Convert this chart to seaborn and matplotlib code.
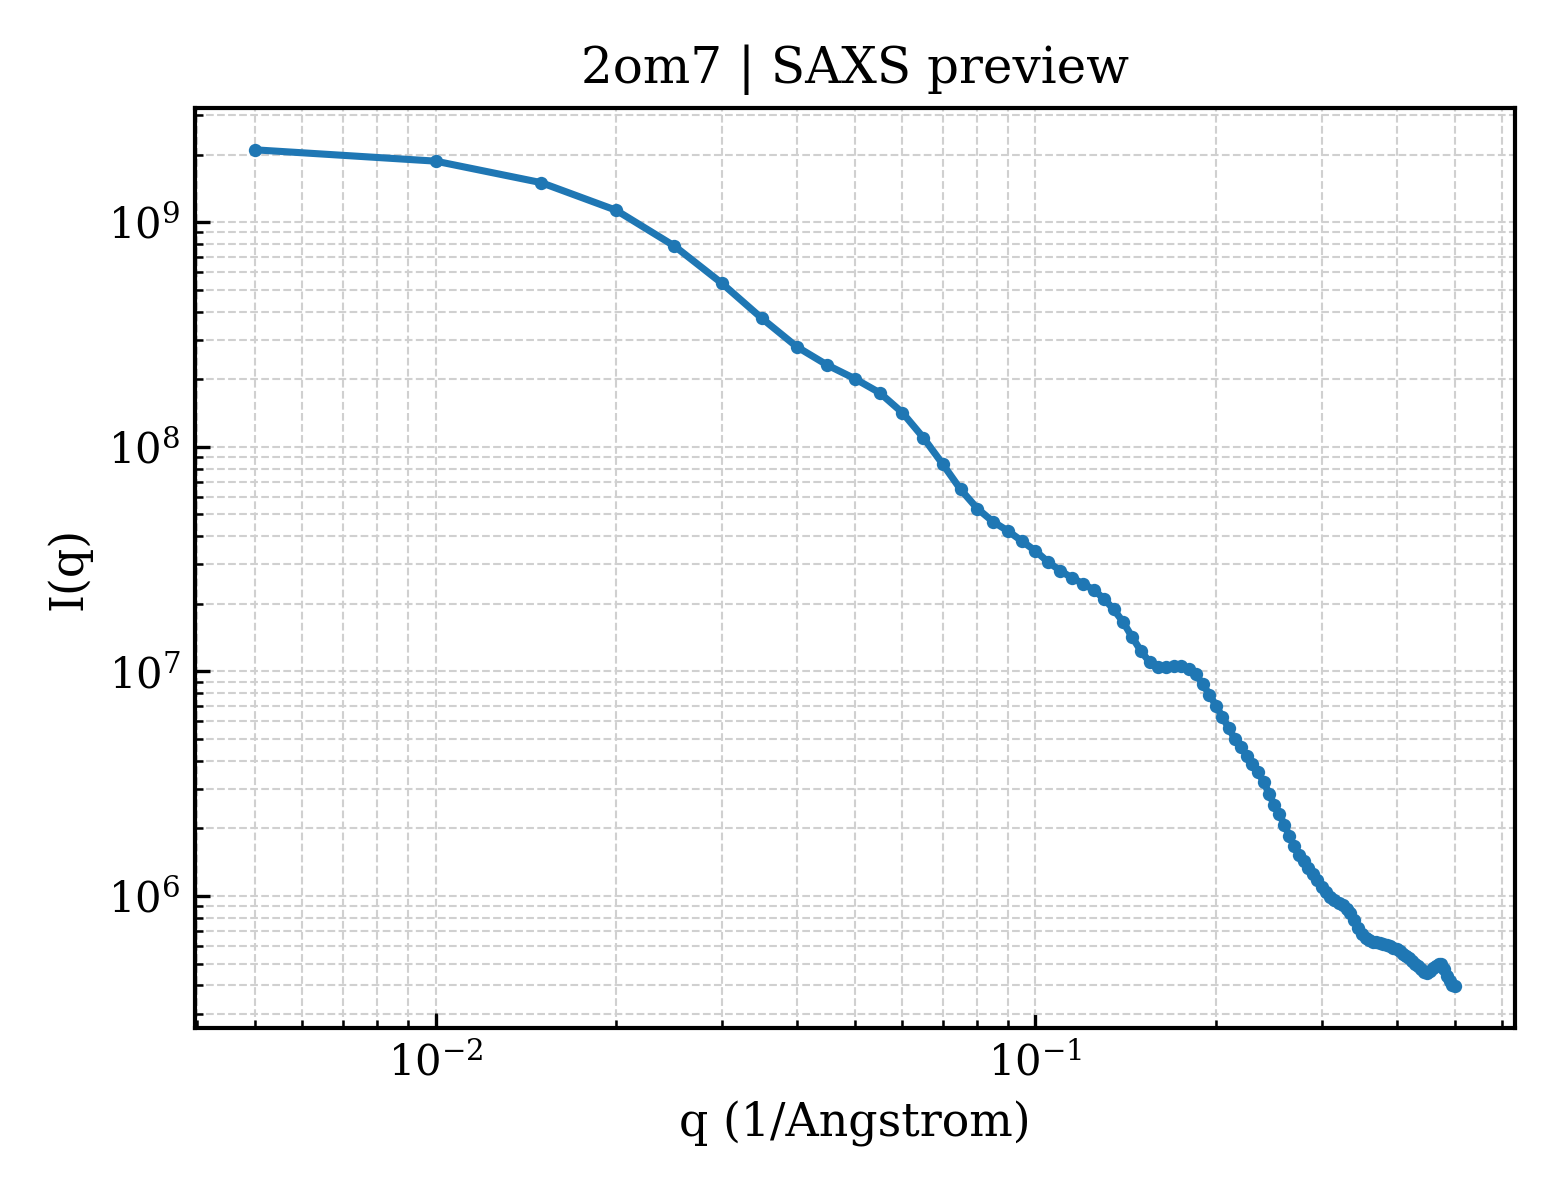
import matplotlib
matplotlib.use("Agg")
import matplotlib.pyplot as plt
import seaborn as sns
import pandas as pd

q_values = [
    0.005, 0.010, 0.015, 0.020, 0.025, 0.030, 0.035, 0.040, 0.045, 0.050,
    0.055, 0.060, 0.065, 0.070, 0.075, 0.080, 0.085, 0.090, 0.095, 0.100,
    0.105, 0.110, 0.115, 0.120, 0.125, 0.130, 0.135, 0.140, 0.145, 0.150,
    0.155, 0.160, 0.165, 0.170, 0.175, 0.180, 0.185, 0.190, 0.195, 0.200,
    0.205, 0.210, 0.215, 0.220, 0.225, 0.230, 0.235, 0.240, 0.245, 0.250,
    0.255, 0.260, 0.265, 0.270, 0.275, 0.280, 0.285, 0.290, 0.295, 0.300,
    0.305, 0.310, 0.315, 0.320, 0.325, 0.330, 0.335, 0.340, 0.345, 0.350,
    0.355, 0.360, 0.365, 0.370, 0.375, 0.380, 0.385, 0.390, 0.395, 0.400,
    0.405, 0.410, 0.415, 0.420, 0.425, 0.430, 0.435, 0.440, 0.445, 0.450,
    0.455, 0.460, 0.465, 0.470, 0.475, 0.480, 0.485, 0.490, 0.495, 0.500,
]

intensity = [
    2.10e9, 1.87e9, 1.50e9, 1.13e9, 7.84e8, 5.35e8, 3.73e8, 2.79e8, 2.31e8, 2.01e8,
    1.74e8, 1.42e8, 1.10e8, 8.40e7, 6.47e7, 5.31e7, 4.64e7, 4.22e7, 3.80e7, 3.44e7,
    3.07e7, 2.81e7, 2.61e7, 2.46e7, 2.31e7, 2.11e7, 1.89e7, 1.66e7, 1.42e7, 1.23e7,
    1.10e7, 1.045e7, 1.045e7, 1.06e7, 1.06e7, 1.03e7, 9.70e6, 8.80e6, 7.87e6, 7.05e6,
    6.25e6, 5.60e6, 5.00e6, 4.60e6, 4.22e6, 3.88e6, 3.56e6, 3.23e6, 2.86e6, 2.55e6,
    2.31e6, 2.08e6, 1.85e6, 1.67e6, 1.53e6, 1.43e6, 1.34e6, 1.26e6, 1.18e6, 1.10e6,
    1.04e6, 9.95e5, 9.60e5, 9.30e5, 9.16e5, 8.80e5, 8.40e5, 7.80e5, 7.23e5, 6.76e5,
    6.49e5, 6.35e5, 6.27e5, 6.22e5, 6.17e5, 6.11e5, 6.05e5, 6.00e5, 5.90e5, 5.80e5,
    5.68e5, 5.54e5, 5.40e5, 5.28e5, 5.15e5, 5.00e5, 4.86e5, 4.72e5, 4.60e5, 4.53e5,
    4.62e5, 4.77e5, 4.90e5, 5.00e5, 4.97e5, 4.72e5, 4.40e5, 4.18e5, 4.04e5, 3.97e5,
]

title = "2om7 | SAXS preview"
x_label = "q (1/Angstrom)"
y_label = "I(q)"

sns.set_style("white")
plt.rcParams["font.family"] = ["DejaVu Serif"]
plt.rcParams["mathtext.fontset"] = "dejavuserif"
plt.rcParams["text.color"] = "black"
plt.rcParams["axes.labelcolor"] = "black"
plt.rcParams["xtick.color"] = "black"
plt.rcParams["ytick.color"] = "black"

df = pd.DataFrame({"q": q_values, "I": intensity})

fig = plt.figure(figsize=(5.2, 4.0), dpi=300)
ax = fig.add_axes([0.125, 0.1433, 0.846, 0.7667])

sns.lineplot(data=df, x="q", y="I", ax=ax, color="#1f77b4", linewidth=1.7,
             marker="o", markersize=3.2, markeredgewidth=0, sort=False)

ax.set_xscale("log")
ax.set_yscale("log")
ax.margins(x=0.05, y=0.05)

ax.grid(True, which="both", linestyle="--", linewidth=0.5, color="#d0d0d0")
ax.set_axisbelow(True)

for s in ax.spines.values():
    s.set_linewidth(1.0)
    s.set_color("black")

ax.tick_params(axis="both", which="both", direction="in", colors="black",
               labelcolor="black", bottom=True, left=True, top=False, right=False)
ax.tick_params(axis="both", which="major", length=3.5, width=0.8, labelsize=10)
ax.tick_params(axis="both", which="minor", length=2, width=0.6)

ax.set_title(title, fontsize=12, color="black")
ax.set_xlabel(x_label, fontsize=11, color="black")
ax.set_ylabel(y_label, fontsize=11, color="black")

fig.savefig("out.png", dpi=300)
